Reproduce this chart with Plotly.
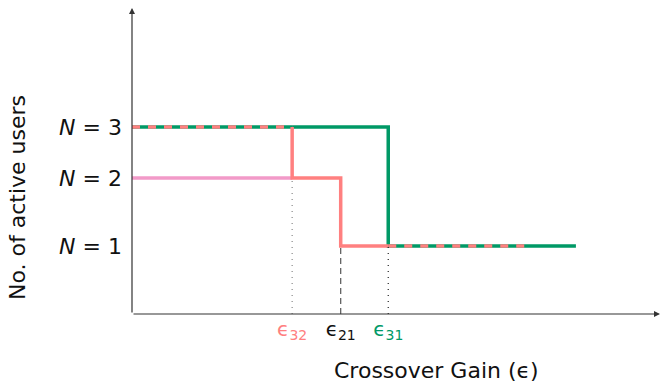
import plotly.graph_objects as go

# Data
eps32, eps21, eps31 = 3.2, 4.17, 5.12
x_end_dash = 7.9
x_end = 8.87
x_max = 10.55
y_levels = [1.0, 2.0, 2.75]          # N=1, N=2, N=3
y_labels = ["N = 1", "N = 2", "N = 3"]
y_max = 4.5
x_ticks = [eps32, eps21, eps31]
x_tick_names = ["32", "21", "31"]

GREEN = "#009966"
SALMON = "#FF8080"
PINK = "#F29AC8"
FONT = "DejaVu Sans"

N1, N2, N3 = y_levels

fig = go.Figure()

fig.add_trace(go.Scatter(x=[0, eps31, eps31, x_end], y=[N3, N3, N1, N1],
                         mode="lines", line=dict(color=GREEN, width=3.5)))
fig.add_trace(go.Scatter(x=[0, eps32], y=[N2, N2], mode="lines",
                         line=dict(color=PINK, width=3.5)))
fig.add_trace(go.Scatter(x=[eps32, eps32, eps21, eps21, eps31], y=[N3, N2, N2, N1, N1],
                         mode="lines", line=dict(color=SALMON, width=3.5)))
fig.add_trace(go.Scatter(x=[0, eps32], y=[N3, N3], mode="lines",
                         line=dict(color=SALMON, width=3.5, dash="8px,8px")))
fig.add_trace(go.Scatter(x=[eps31, x_end_dash], y=[N1, N1], mode="lines",
                         line=dict(color=SALMON, width=3.5, dash="8px,8px")))
fig.add_trace(go.Scatter(x=[eps32, eps32], y=[0, N2], mode="lines",
                         line=dict(color="#888888", width=1.2, dash="1px,5px")))
fig.add_trace(go.Scatter(x=[eps21, eps21], y=[0, N1], mode="lines",
                         line=dict(color="#555555", width=1.2, dash="6px,4px")))
fig.add_trace(go.Scatter(x=[eps31, eps31], y=[0, N1], mode="lines",
                         line=dict(color="#222222", width=1.2, dash="1px,5px")))

fig.add_annotation(x=x_max, y=0, ax=0, ay=0, xref="x", yref="y", axref="x", ayref="y",
                   showarrow=True, arrowhead=2, arrowsize=1, arrowwidth=1.2,
                   arrowcolor="#333333", text="")
fig.add_annotation(x=0, y=y_max, ax=0, ay=0, xref="x", yref="y", axref="x", ayref="y",
                   showarrow=True, arrowhead=2, arrowsize=1, arrowwidth=1.2,
                   arrowcolor="#333333", text="")

colors = [SALMON, "#111111", GREEN]
ticktext = [f'<span style="color:{c}">ϵ<sub>{n}</sub></span>' for c, n in zip(colors, x_tick_names)]
ytext = ["<i>N</i> = 1", "<i>N</i> = 2", "<i>N</i> = 3"]

fig.update_layout(
    width=662, height=383,
    margin=dict(l=132, r=2, t=8, b=69),
    plot_bgcolor="white", paper_bgcolor="white",
    showlegend=False,
    font=dict(family=FONT, color="#111111"),
    xaxis=dict(range=[0, x_max], showgrid=False, zeroline=False, showline=False,
               tickvals=x_ticks, ticktext=ticktext, ticks="", tickfont=dict(size=20),
               ticklabelstandoff=1),
    yaxis=dict(range=[0, y_max], showgrid=False, zeroline=False, showline=False,
               tickvals=y_levels, ticktext=ytext, ticks="", tickfont=dict(size=22),
               ticklabelstandoff=9),
)

fig.add_annotation(text="Crossover Gain (ϵ)", xref="paper", yref="paper",
                   x=(436 - 132) / 528, y=-(370 - 314) / 306, showarrow=False,
                   font=dict(size=22), xanchor="center", yanchor="middle")
fig.add_annotation(text="No. of active users", xref="paper", yref="paper",
                   x=-(132 - 17) / 528, y=(314 - 198) / 306, showarrow=False, textangle=-90,
                   font=dict(size=22), xanchor="center", yanchor="middle")

fig.write_html("out.html", post_script="document.body.style.margin='0';",
               config={"displayModeBar": False})
